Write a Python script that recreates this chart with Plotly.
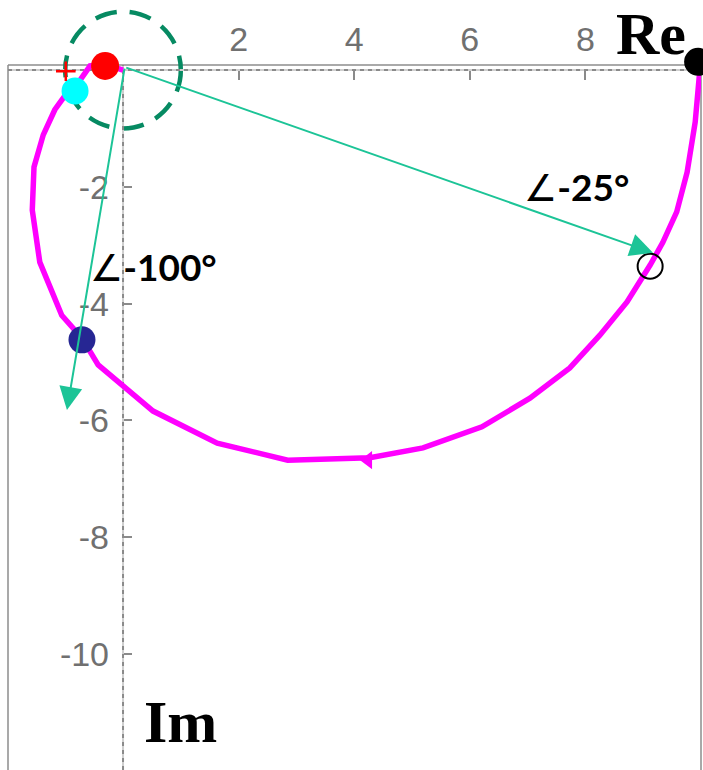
import plotly.graph_objects as go

# Nyquist locus (real / imaginary parts), traced from w=0 toward w->inf
re_vals = [9.98, 9.95, 9.90, 9.76, 9.58, 9.34, 9.12, 8.72, 8.25, 7.73, 7.04, 6.21,
           5.19, 4.27, 2.85, 1.63, 0.52, -0.43, -0.71, -1.06, -1.44, -1.57, -1.54,
           -1.38, -1.18, -0.97, -0.74, -0.57, -0.31, 0.0]
im_vals = [0.0, -0.43, -0.89, -1.75, -2.43, -2.95, -3.34, -3.97, -4.54, -5.10, -5.62, -6.11,
           -6.47, -6.64, -6.68, -6.39, -5.84, -5.05, -4.59, -4.20, -3.29, -2.40, -1.66,
           -1.11, -0.68, -0.39, -0.17, 0.07, 0.10, 0.0]

# direction marker on the locus
dir_pt = (4.24, -6.68)

# highlighted points
start_pt = (9.95, 0.14)        # w = 0
open_pt = (9.12, -3.36)        # phase -25 deg
navy_pt = (-0.71, -4.62)       # phase -100 deg
red_pt = (-0.31, 0.07)
cyan_pt = (-0.83, -0.36)
crit_pt = (-0.99, -0.02)       # critical point -1

# phase vectors from the origin
vec_origin = (0.03, 0.05)
vec_tips = [(9.17, -3.13), (-0.97, -5.82)]
angle_labels = ["∠<b>-25°</b>", "∠<b>-100°</b>"]
angle_label_pos = [(7.84, -1.99), (0.52, -3.36)]

x_ticks = [2, 4, 6, 8]
y_ticks = [-2, -4, -6, -8, -10]

x_range = [-1.99, 10.0]
y_range = [-11.986, 1.199]
frame_top = 0.086              # upper edge of the boxed region

GREEN = "#1cc497"
GRAY = "#707070"

fig = go.Figure()

fig.add_trace(go.Scatter(x=re_vals, y=im_vals, mode="lines",
                         line=dict(color="#ff00ff", width=5.5), hoverinfo="skip"))
fig.add_trace(go.Scatter(x=[dir_pt[0]], y=[dir_pt[1]], mode="markers",
                         marker=dict(symbol="triangle-left", size=16, color="#ff00ff")))

fig.add_trace(go.Scatter(x=[start_pt[0]], y=[start_pt[1]], mode="markers", cliponaxis=False,
                         marker=dict(size=28, color="black")))
fig.add_trace(go.Scatter(x=[open_pt[0]], y=[open_pt[1]], mode="markers",
                         marker=dict(size=25, color="rgba(0,0,0,0)",
                                     line=dict(color="black", width=2))))
fig.add_trace(go.Scatter(x=[navy_pt[0]], y=[navy_pt[1]], mode="markers",
                         marker=dict(size=27, color="#262693")))
fig.add_trace(go.Scatter(x=[cyan_pt[0]], y=[cyan_pt[1]], mode="markers",
                         marker=dict(size=27, color="#00ffff")))
fig.add_trace(go.Scatter(x=[crit_pt[0]], y=[crit_pt[1]], mode="markers",
                         marker=dict(symbol="cross-thin", size=14,
                                     line=dict(color="red", width=2.5))))
fig.add_trace(go.Scatter(x=[red_pt[0]], y=[red_pt[1]], mode="markers", cliponaxis=False,
                         marker=dict(size=28, color="#ff0000")))

# dashed unit circle
fig.add_shape(type="circle", xref="x", yref="y", x0=-1, x1=1, y0=-1, y1=1,
              line=dict(color="#068a62", width=4.5, dash="22px,13px"), layer="below")

# axes through the origin: light base with darker dashes
for kw in (dict(x0=x_range[0], x1=x_range[1], y0=0, y1=0),
           dict(x0=0, x1=0, y0=y_range[0], y1=frame_top)):
    fig.add_shape(type="line", xref="x", yref="y", layer="below",
                  line=dict(color="#cfcfcf", width=2), **kw)
    fig.add_shape(type="line", xref="x", yref="y", layer="below",
                  line=dict(color="#8a8a8a", width=2, dash="4px,4px"), **kw)

# frame (left, top, right)
fig.add_shape(type="line", xref="paper", yref="y", x0=0, x1=0, y0=y_range[0], y1=frame_top,
              line=dict(color="#8c8c8c", width=1.5), layer="below")
fig.add_shape(type="line", xref="paper", yref="y", x0=1, x1=1, y0=y_range[0], y1=frame_top,
              line=dict(color="#8c8c8c", width=1.5), layer="below")
fig.add_shape(type="line", xref="paper", yref="y", x0=0, x1=1, y0=frame_top, y1=frame_top,
              line=dict(color="#8c8c8c", width=1.5), layer="below")

# phase vectors
for tip in vec_tips:
    fig.add_annotation(x=tip[0], y=tip[1], ax=vec_origin[0], ay=vec_origin[1],
                       xref="x", yref="y", axref="x", ayref="y", text="",
                       showarrow=True, arrowhead=2, arrowsize=2.3, arrowwidth=2,
                       arrowcolor=GREEN, standoff=0)

for txt, (lx, ly) in zip(angle_labels, angle_label_pos):
    fig.add_annotation(x=lx, y=ly, xref="x", yref="y", text=txt, showarrow=False,
                       xanchor="center", yanchor="middle",
                       font=dict(family="Lato, DejaVu Sans", size=37, color="black"))

fig.add_annotation(x=9.13, y=0.62, xref="x", yref="y", text="<b>Re</b>",
                   showarrow=False, xanchor="center", yanchor="middle",
                   font=dict(family="Liberation Serif", size=60, color="black"))
fig.add_annotation(x=0.99, y=-11.16, xref="x", yref="y", text="<b>Im</b>",
                   showarrow=False, xanchor="center", yanchor="middle",
                   font=dict(family="Liberation Serif", size=60, color="black"))

x_zero_frac = (0 - x_range[0]) / (x_range[1] - x_range[0])
y_zero_frac = (0 - y_range[0]) / (y_range[1] - y_range[0])

fig.update_layout(
    width=703, height=770,
    margin=dict(l=8, r=2, t=0, b=0),
    paper_bgcolor="white", plot_bgcolor="white",
    showlegend=False,
    xaxis=dict(range=x_range, side="top", anchor="free", position=y_zero_frac,
               tickvals=x_ticks, ticktext=[str(v) for v in x_ticks],
               ticks="inside", ticklen=9, tickwidth=1.5, tickcolor="#8a8a8a",
               ticklabelstandoff=12,
               tickfont=dict(family="Liberation Sans", size=34, color=GRAY),
               showgrid=False, zeroline=False, showline=False),
    yaxis=dict(range=y_range, side="left", anchor="free", position=x_zero_frac,
               tickvals=y_ticks, ticktext=[str(v) for v in y_ticks],
               ticks="inside", ticklen=8, tickwidth=1.5, tickcolor="#8a8a8a",
               ticklabelstandoff=14,
               tickfont=dict(family="Liberation Sans", size=34, color=GRAY),
               showgrid=False, zeroline=False, showline=False),
)

fig.write_html("out.html")
